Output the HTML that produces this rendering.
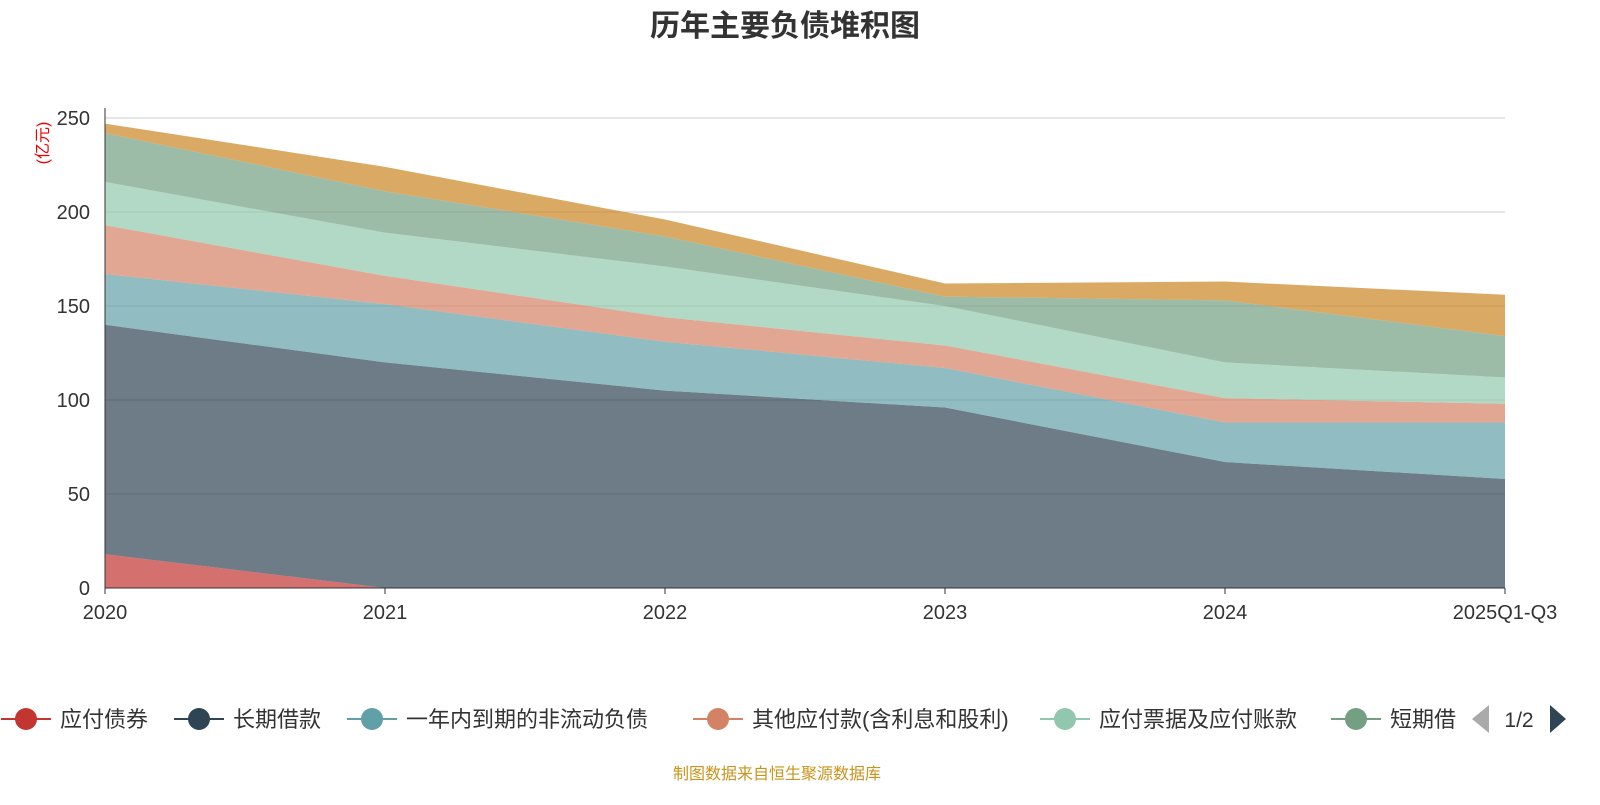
<!DOCTYPE html>
<html><head><meta charset="utf-8"><style>
body{margin:0;background:#fff;width:1600px;height:800px;overflow:hidden;font-family:"Liberation Sans","Noto Sans CJK SC",sans-serif}
</style></head><body>
<svg id="c" width="1600" height="800" xmlns="http://www.w3.org/2000/svg" font-family="Liberation Sans, Noto Sans CJK SC, sans-serif">
<text x="785" y="36" text-anchor="middle" font-size="30" font-weight="bold" fill="#333">历年主要负债堆积图</text>
<text transform="translate(48,143) rotate(-90)" text-anchor="middle" font-size="16" fill="#e00">(亿元)</text>
<g id="grid"></g><g id="areas"></g><g id="axes"></g>
<g id="legend"></g>
<text x="777" y="779" text-anchor="middle" font-size="16" fill="#c9941c">制图数据来自恒生聚源数据库</text>
</svg>
<script>
const categories=["2020","2021","2022","2023","2024","2025Q1-Q3"];
const seriesNames=["应付债券","长期借款","一年内到期的非流动负债","其他应付款(含利息和股利)","应付票据及应付账款","短期借款","其他负债"];
const colors=["#c23531","#2f4554","#61a0a8","#d48265","#91c7ae","#749f83","#ca8622"];
const s0=[18,0,0,0,0,0];
const s1=[122,120,105,96,67,58];
const s2=[27,31,26,21,21,30];
const s3=[26,15,13,12,13,10];
const s4=[23,23,27,21,19,14];
const s5=[26,22,16,5,33,22];
const s6=[5,13,9,7,10,22];
const yTicks=[0,50,100,150,200,250];
const series=[s0,s1,s2,s3,s4,s5,s6];
const NS="http://www.w3.org/2000/svg";
const x=i=>105+i*280, y=v=>588-v*1.88;
function mk(t,a,p){const e=document.createElementNS(NS,t);for(const k in a)e.setAttribute(k,a[k]);p.appendChild(e);return e;}
const grid=document.getElementById('grid'),areas=document.getElementById('areas'),axes=document.getElementById('axes'),legend=document.getElementById('legend');
yTicks.forEach(t=>{
 if(t>0){const l=mk('line',{x1:105,x2:1505,y1:y(t),y2:y(t),stroke:'#ccc'},grid);
 
 }
 const tx=mk('text',{x:90,y:y(t)+7,'text-anchor':'end','font-size':20,fill:'#333'},axes);tx.textContent=t;
 
 
});
let base=categories.map(()=>0);
series.forEach((s,k)=>{
 const top=s.map((v,i)=>base[i]+v);
 let d='M'+top.map((v,i)=>x(i)+','+y(v)).join('L');
 for(let i=categories.length-1;i>=0;i--)d+='L'+x(i)+','+y(base[i]);
 const p=mk('path',{d:d+'Z',fill:colors[k],'fill-opacity':0.7,stroke:'none'},areas);
 
 
 base=top;
});
mk('line',{x1:105,x2:105,y1:108,y2:588,stroke:'#333'},axes);
mk('line',{x1:105,x2:1505,y1:588,y2:588,stroke:'#333'},axes);
categories.forEach((c,i)=>{
 mk('line',{x1:x(i),x2:x(i),y1:588,y2:594,stroke:'#333'},axes);
 const t=mk('text',{x:x(i),y:619,'text-anchor':'middle','font-size':20,fill:'#333'},axes);t.textContent=c;
 
 
});
const lx=[26,199,372,718,1065,1356];
lx.forEach((cx,k)=>{
 const g=mk('g',{},legend);
 
 
 mk('line',{x1:cx-25,x2:cx+25,y1:719,y2:719,stroke:colors[k],'stroke-width':2},g);
 mk('circle',{cx:cx,cy:719,r:11,fill:colors[k]},g);
 const t=mk('text',{x:cx+34,y:727,'font-size':22,fill:'#333'},g);t.textContent=seriesNames[k];
 if(k==5){t.textContent='短期借';}
});
const pa=mk('path',{d:'M1472,719L1489,705L1489,733Z',fill:'#aaa'},legend);

const pt=mk('text',{x:1519,y:727,'text-anchor':'middle','font-size':21,fill:'#333'},legend);pt.textContent='1/2';

const pn=mk('path',{d:'M1566,719L1550,705L1550,733Z',fill:'#2f4554'},legend);

</script>
</body></html>
